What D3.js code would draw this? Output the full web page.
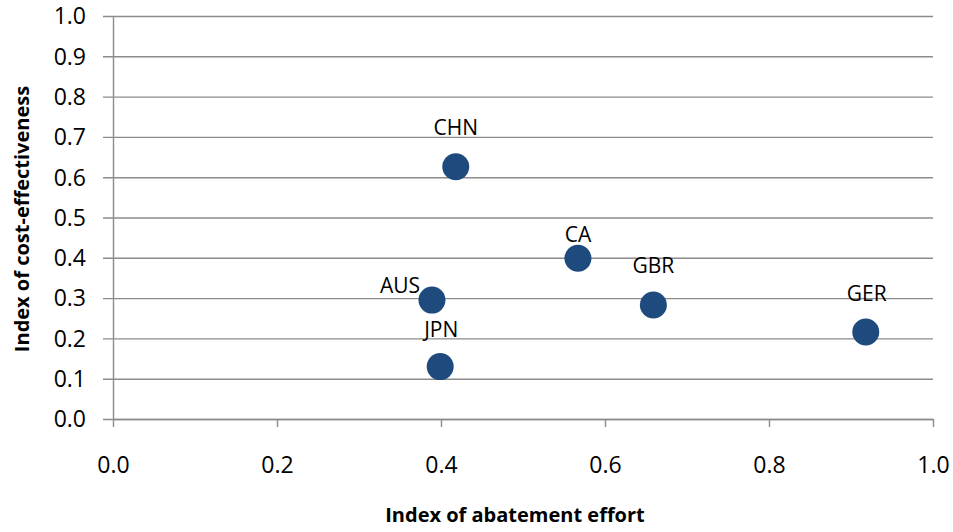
<!DOCTYPE html>
<html>
<head>
<meta charset="utf-8">
<script src="https://cdn.jsdelivr.net/npm/d3@7"></script>
<style>
  html, body { margin: 0; padding: 0; background: #fff; }
  svg { display: block; }
  text { font-family: "Open Sans", "DejaVu Sans", sans-serif; fill: #000; }
</style>
</head>
<body>
<svg id="chart" width="953" height="532"></svg>
<script>
// Country indices: abatement effort (x) vs cost-effectiveness (y)
const countries = ["CHN", "CA", "GBR", "AUS", "JPN", "GER"];
const abatementEffort = [0.418, 0.567, 0.659, 0.389, 0.399, 0.918];
const costEffectiveness = [0.626, 0.399, 0.283, 0.295, 0.130, 0.216];

const xTicks = [0, 0.2, 0.4, 0.6, 0.8, 1.0];
const yTicks = [0, 0.1, 0.2, 0.3, 0.4, 0.5, 0.6, 0.7, 0.8, 0.9, 1.0];

// Per-label placement relative to its marker (px)
const labelShift = [[0, -32], [0, -16], [0, -32], [-32, -7], [1, -30], [1, -31]];

const svg = d3.select("#chart");
const x = d3.scaleLinear().domain([0, 1]).range([113, 933]);
const y = d3.scaleLinear().domain([0, 1]).range([419, 16]);

const gridColor = "#8c8c8c";

// Horizontal gridlines with outward tick stubs on the left
const yAxis = svg.append("g")
  .attr("transform", `translate(${x(0)},0)`)
  .call(d3.axisLeft(y).tickValues(yTicks).tickFormat(d3.format(".1f"))
    .tickSizeInner(10).tickSizeOuter(0).tickPadding(17));
yAxis.select(".domain").attr("stroke", gridColor).attr("stroke-width", 1.4);
yAxis.selectAll(".tick line")
  .attr("x1", -10).attr("x2", x(1) - x(0))
  .attr("stroke", gridColor).attr("stroke-width", 1.4);
yAxis.selectAll(".tick text")
  .style("font-size", "23px").attr("fill", "#000").attr("dy", "0.34em");

// Bottom axis with downward ticks
const xAxis = svg.append("g")
  .attr("transform", `translate(0,${y(0)})`)
  .call(d3.axisBottom(x).tickValues(xTicks).tickFormat(d3.format(".1f"))
    .tickSizeInner(8).tickSizeOuter(0).tickPadding(30));
xAxis.select(".domain").attr("stroke", gridColor).attr("stroke-width", 1.4);
xAxis.selectAll(".tick line").attr("stroke", gridColor).attr("stroke-width", 1.4);
xAxis.selectAll(".tick text")
  .style("font-size", "23px").attr("fill", "#000").attr("dy", "0.71em");

// Markers
svg.append("g").selectAll("circle")
  .data(countries)
  .join("circle")
  .attr("cx", (d, i) => x(abatementEffort[i]))
  .attr("cy", (d, i) => y(costEffectiveness[i]))
  .attr("r", 13.5)
  .attr("fill", "#1f4a7e");

// Country labels
svg.append("g").selectAll("text")
  .data(countries)
  .join("text")
  .attr("x", (d, i) => x(abatementEffort[i]) + labelShift[i][0])
  .attr("y", (d, i) => y(costEffectiveness[i]) + labelShift[i][1])
  .attr("text-anchor", "middle")
  .style("font-size", "21px")
  .text(d => d);

// Axis titles
svg.append("text")
  .attr("x", 515).attr("y", 522)
  .attr("text-anchor", "middle")
  .style("font-size", "20px").style("font-weight", "bold")
  .text("Index of abatement effort");

svg.append("text")
  .attr("transform", "translate(29,219) rotate(-90)")
  .attr("text-anchor", "middle")
  .style("font-size", "20px").style("font-weight", "bold")
  .text("Index of cost-effectiveness");
</script>
</body>
</html>
